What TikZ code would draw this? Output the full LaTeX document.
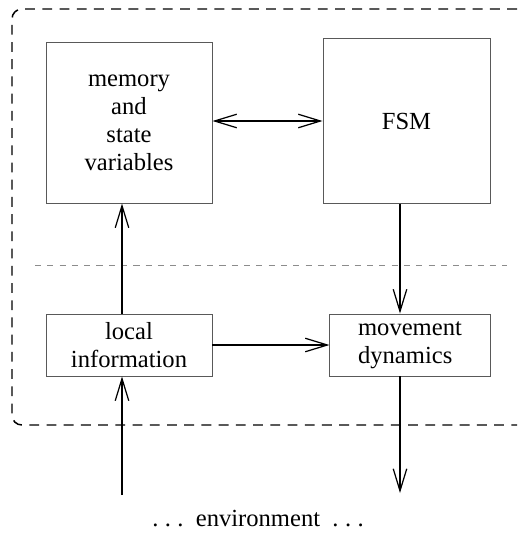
\documentclass[tikz,border=0pt]{standalone}
\usepackage{fontspec}
\setmainfont{Liberation Serif}
\usetikzlibrary{positioning,arrows.meta}

\newcommand\spdots{.\hspace{2.6pt}.\hspace{2.6pt}.}

\begin{document}
\begin{tikzpicture}[
    x=0.4066pt, y=-0.4066pt,
    >={Straight Barb[length=9pt,width=5.5pt,line width=0.5pt]},
    block/.style={
        draw=black!65,
        line width=0.4pt,
        inner sep=0pt,
        align=center,
        font=\fontsize{10}{11.4}\selectfont,
    },
    link/.style={
        line width=0.8pt,
        ->,
    },
    boundary/.style={
        line width=0.6pt,
        dash pattern=on 4pt off 3pt,
        rounded corners=4pt,
    },
    divider/.style={
        draw=black!45,
        line width=0.4pt,
        dash pattern=on 2.5pt off 2.5pt,
    },
]
\useasboundingbox (0,0) rectangle (517,533);

% agent boundary and divider
\draw[boundary] (517,9) -| (12,425) -- (517,425);
\draw[divider] (35,265) -- (507,265);

% blocks
\node[block, minimum width=67.5pt, minimum height=65.1pt] (mem) at (129,123)
    {memory\\and\\state\\variables};
\node[block, minimum width=67.9pt, minimum height=66.7pt] (fsm) at (406.5,121) {FSM};
\node[block, minimum width=67.5pt, minimum height=25.2pt] (local) at (129,345)
    {local\\information};
\node[block, minimum width=65.1pt, minimum height=25.2pt, align=left] (move) at (410,345)
    {movement\\dynamics};

\node[font=\fontsize{10}{12}\selectfont] (env) at (258,519) {\spdots\ \ environment\ \ \spdots};

% free ends
\coordinate (envin) at (122,495);
\coordinate (envout) at (400,493);

% connectors
\draw[link, <->] (mem.east |- fsm.west) -- (fsm.west);
\draw[link] (local.north -| envin) -- (mem.south -| envin);
\draw[link] (fsm.south -| envout) -- (move.north -| envout);
\draw[link] (local.east) -- (move.west);
\draw[link] (envin) -- (envin |- local.south);
\draw[link] (move.south -| envout) -- (envout);

\end{tikzpicture}
\end{document}
